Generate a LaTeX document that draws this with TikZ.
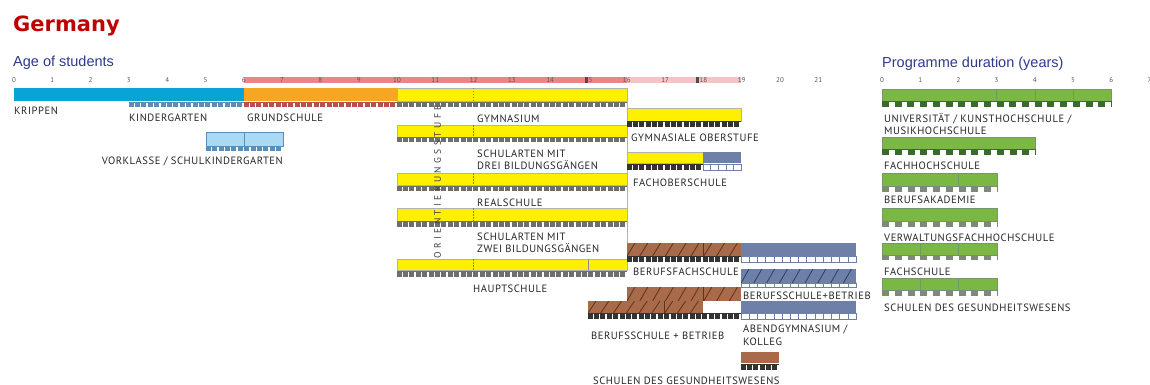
\documentclass[tikz,border=0pt]{standalone}
\usepackage{fontspec}
\setmainfont{PT Sans}
\newfontfamily\lblfont[LetterSpace=5]{PT Sans}
\newfontfamily\osfont[LetterSpace=36]{PT Sans}
\newfontfamily\titlefont{DejaVu Sans}
\newfontfamily\headfont{Liberation Sans}
\definecolor{cyanb}{HTML}{0AA3D6}
\definecolor{kgstrip}{HTML}{5A8DB8}
\definecolor{orng}{HTML}{F6A623}
\definecolor{gsstrip}{HTML}{B5524E}
\definecolor{ylw}{HTML}{FFF000}
\definecolor{gstr}{HTML}{6E6E6E}
\definecolor{salmon}{HTML}{EC8585}
\definecolor{lpink}{HTML}{F6C4C4}
\definecolor{lblue}{HTML}{A9DAF2}
\definecolor{bgrey}{HTML}{6F80A8}
\definecolor{brwn}{HTML}{A86A48}
\definecolor{dbrwn}{HTML}{5E3420}
\definecolor{dnavy}{HTML}{2E3C6C}
\definecolor{grn}{HTML}{7BB843}
\definecolor{dgrn}{HTML}{3C6A2C}
\definecolor{ggrn}{HTML}{7D8A78}
\definecolor{headc}{HTML}{2E3A8C}
\definecolor{titlered}{HTML}{C00000}
\definecolor{lbltext}{HTML}{262626}
% grey block strip: x1 x2 y1 y2 colour
\newcommand\gstrip[5]{%
  \fill[#5] (#1,#3) rectangle (#2,#4);
  \pgfmathtruncatemacro\nn{round((#2-#1)/6.383)}%
  \foreach \i in {1,...,\nn}{\fill[white] ({#1+\i*(#2-#1)/\nn-1.7},{#3+1}) rectangle ({#1+\i*(#2-#1)/\nn-0.3},{#4});}%
}
% outlined white cell strip
\newcommand\ostrip[4]{%
  \draw[bgrey,fill=white,line width=0.5pt] (#1,#3) rectangle (#2,#4);
  \pgfmathtruncatemacro\nn{round((#2-#1)/8.2)}%
  \foreach \i in {1,...,\nn}{\draw[bgrey,line width=0.5pt] ({#1+\i*(#2-#1)/\nn},#3) -- ({#1+\i*(#2-#1)/\nn},#4);}%
}
% green checker strip
\newcommand\grstrip[5]{%
  \fill[white] (#1,#3) rectangle (#2,#4);
  \draw[#5,line width=0.5pt] (#1,#3) -- (#2,#3);
  \pgfmathtruncatemacro\nn{round((#2-#1)/12.73)}%
  \foreach \i in {1,...,\nn}{\fill[#5] ({#1+(\i-1)*(#2-#1)/\nn},#3) rectangle ({#1+(\i-0.45)*(#2-#1)/\nn},#4);}%
  \draw[#5,line width=0.5pt] (#2,#3) -- (#2,#4);
}
% hatched box x1 y1 x2 y2 fill line
\newcommand\hatchbox[6]{%
  \fill[#5] (#1,#2) rectangle (#3,#4);
  \begin{scope}
  \clip (#1,#2) rectangle (#3,#4);
  \foreach \k in {-1,...,10}{\draw[#6,line width=0.8pt] ({#1+\k*12.8},#4) -- ++(8,{-(#4-#2)});}
  \end{scope}
}
\begin{document}
\begin{tikzpicture}[x=1pt,y=-1pt,
  lbl/.style={font=\lblfont\fontsize{10.6}{11}\selectfont, text=lbltext, anchor=base west, inner sep=0pt},
  num/.style={font=\fontsize{7}{8}\selectfont, text=black!65, inner sep=0pt},
  ybar/.style={fill=ylw, draw=black!30, line width=0.4pt},
  gbar/.style={fill=grn, draw=dgrn!70, line width=0.4pt},
  divl/.style={draw=black!45, line width=0.5pt},
  dashl/.style={draw=black!50, line width=0.5pt, dash pattern=on 1.5pt off 1.5pt},
  head/.style={font=\headfont\fontsize{14.5}{16}\selectfont, text=headc, anchor=base west, inner sep=0pt}]
\useasboundingbox (0,0) rectangle (1150,385);
\fill[white] (0,0) rectangle (1150,385);

% titles
\node[font=\titlefont\bfseries\fontsize{21}{24}\selectfont, text=titlered, anchor=base west, inner sep=0pt] (title) at (13,32) {Germany};
\node[head] (agehead) at (13,67) {Age of students};
\node[head] (durhead) at (882,68) {Programme duration (years)};

% age axis band
\fill[salmon] (244,77) rectangle (627,83);
\fill[lpink] (627,77) rectangle (741,83);
\foreach \a in {0,...,21}{\node[num] (age\a) at ({14+38.3*\a},80) {\a};}
\fill[black!70] (585,77) rectangle (588,83);
\fill[black!70] (696,77) rectangle (699,83);
% duration axis
\foreach \a in {0,...,7}{\node[num] (dur\a) at ({882+38.2*\a},80) {\a};}

% Krippen / Kindergarten / Grundschule / Gymnasium row
\fill[cyanb] (14,88) rectangle (244,101);
\gstrip{129}{244}{102}{107}{kgstrip}
\fill[orng] (244,88) rectangle (397,101);
\gstrip{244}{397}{102}{107}{gsstrip}

% separating line of lower secondary block
\draw[draw=black!30, line width=0.5pt] (627,101) -- (627,243);

% yellow rows 10-16
\foreach \ya/\yb/\sa/\sb in {88/101/102/107, 125/137/137/142, 173/185/186/191, 208/221/221/227, 259/270/271/277}{
  \draw[ybar] (397,\ya) rectangle (627,\yb);
  \draw[dashl] (473,\ya) -- (473,\yb);
  \gstrip{397}{627}{\sa}{\sb}{gstr}
}
\draw[divl] (588,259) -- (588,270);

% Orientierungsstufe
\node[font=\osfont\fontsize{9.5}{10}\selectfont, text=black!75, rotate=90, inner sep=0pt] (orient) at (437.5,182) {ORIENTIERUNGSSTUFE};

% Vorklasse
\draw[fill=lblue, draw=kgstrip, line width=0.5pt] (206,132) rectangle (283,146);
\draw[kgstrip, line width=0.5pt] (244,132) -- (244,146);
\gstrip{206}{283}{146}{151}{kgstrip}

% Gymnasiale Oberstufe
\draw[ybar] (627,108) rectangle (741,121);
\gstrip{627}{741}{121}{127}{black!80}

% Fachoberschule
\draw[ybar] (627,152) rectangle (703,163);
\fill[bgrey] (703,152) rectangle (741,163);
\gstrip{627}{703}{164}{170}{black!80}
\ostrip{703}{741}{164}{170}

% Berufsfachschule
\hatchbox{627}{243}{741}{256}{brwn}{dbrwn}
\draw[dbrwn, line width=0.5pt] (703,243) -- (703,256);
\fill[bgrey] (741,243) rectangle (856,256);
\gstrip{627}{741}{256}{262}{black!80}
\ostrip{741}{856}{256}{262}

% Berufsschule+Betrieb (right)
\hatchbox{741}{269}{856}{283}{bgrey}{dnavy}
\ostrip{741}{856}{283}{287}

% Berufsschule + Betrieb (dual)
\hatchbox{627}{287}{741}{301}{brwn}{dbrwn}
\draw[dbrwn, line width=0.5pt] (703,287) -- (703,301);
\hatchbox{588}{301}{703}{313}{brwn}{dbrwn}
\draw[dbrwn, line width=0.5pt] (664,301) -- (664,313);
\fill[white] (703,301) rectangle (741,313);
\gstrip{588}{741}{313}{319}{black!80}
% Abendgymnasium
\fill[bgrey] (741,301) rectangle (856,313);
\ostrip{741}{856}{313}{319}

% Schulen des Gesundheitswesens (middle)
\fill[brwn] (741,352) rectangle (779,363);
\gstrip{741}{779}{364}{370}{black!80}

% labels left/middle
\node[lbl] (krippen) at (14,115) {KRIPPEN};
\node[lbl] (kiga) at (129,121.5) {KINDERGARTEN};
\node[lbl] (grund) at (247,121.5) {GRUNDSCHULE};
\node[lbl] (gym) at (477,123) {GYMNASIUM};
\node[lbl] (gymo) at (631,142) {GYMNASIALE OBERSTUFE};
\node[lbl] (vork) [anchor=base east] at (283,164) {VORKLASSE / SCHULKINDERGARTEN};
\node[lbl] (drei1) at (477,157) {SCHULARTEN MIT};
\node[lbl] (drei2) at (477,169.5) {DREI BILDUNGSGÄNGEN};
\node[lbl] (fos) at (633,186) {FACHOBERSCHULE};
\node[lbl] (real) at (477,206) {REALSCHULE};
\node[lbl] (zwei1) at (477,240) {SCHULARTEN MIT};
\node[lbl] (zwei2) at (477,252.5) {ZWEI BILDUNGSGÄNGEN};
\node[lbl] (bfs) at (633,275) {BERUFSFACHSCHULE};
\node[lbl] (haupt) at (473,292) {HAUPTSCHULE};
\node[lbl] (bsb) at (743,299) {BERUFSSCHULE+BETRIEB};
\node[lbl] (dual) at (591,339) {BERUFSSCHULE + BETRIEB};
\node[lbl] (abend1) at (743,332) {ABENDGYMNASIUM /};
\node[lbl] (abend2) at (743,345) {KOLLEG};
\node[lbl] (gesm) at (593,384) {SCHULEN DES GESUNDHEITSWESENS};

% right: programme duration bars
\draw[gbar] (882,89) rectangle (1111,101);
\foreach \a in {3,4,5}{\draw[dgrn!70,line width=0.5pt] ({882+38.2*\a},89) -- ({882+38.2*\a},101);}
\grstrip{882}{1111}{101}{107}{dgrn}
\draw[gbar] (882,137) rectangle (1035,149);
\grstrip{882}{1035}{149}{155}{dgrn}
\draw[gbar] (882,173) rectangle (997,186);
\draw[dgrn!70,line width=0.5pt] (958.4,173) -- (958.4,186);
\grstrip{882}{997}{186}{192}{ggrn}
\draw[gbar] (882,208) rectangle (997,221);
\grstrip{882}{997}{221}{227}{ggrn}
\draw[gbar] (882,243) rectangle (997,255);
\foreach \a in {1,2}{\draw[dgrn!70,line width=0.5pt] ({882+38.2*\a},243) -- ({882+38.2*\a},255);}
\grstrip{882}{997}{255}{260}{ggrn}
\draw[gbar] (882,278) rectangle (997,290);
\foreach \a in {1,2}{\draw[dgrn!70,line width=0.5pt] ({882+38.2*\a},278) -- ({882+38.2*\a},290);}
\grstrip{882}{997}{290}{296}{ggrn}

\node[lbl] (uni1) at (884,122) {UNIVERSITÄT / KUNSTHOCHSCHULE /};
\node[lbl] (uni2) at (884,134) {MUSIKHOCHSCHULE};
\node[lbl] (fh) at (884,169.5) {FACHHOCHSCHULE};
\node[lbl] (ba) at (884,203.5) {BERUFSAKADEMIE};
\node[lbl] (vwfh) at (884,241) {VERWALTUNGSFACHHOCHSCHULE};
\node[lbl] (fs) at (884,275) {FACHSCHULE};
\node[lbl] (gesr) at (884,311) {SCHULEN DES GESUNDHEITSWESENS};
\end{tikzpicture}
\end{document}
